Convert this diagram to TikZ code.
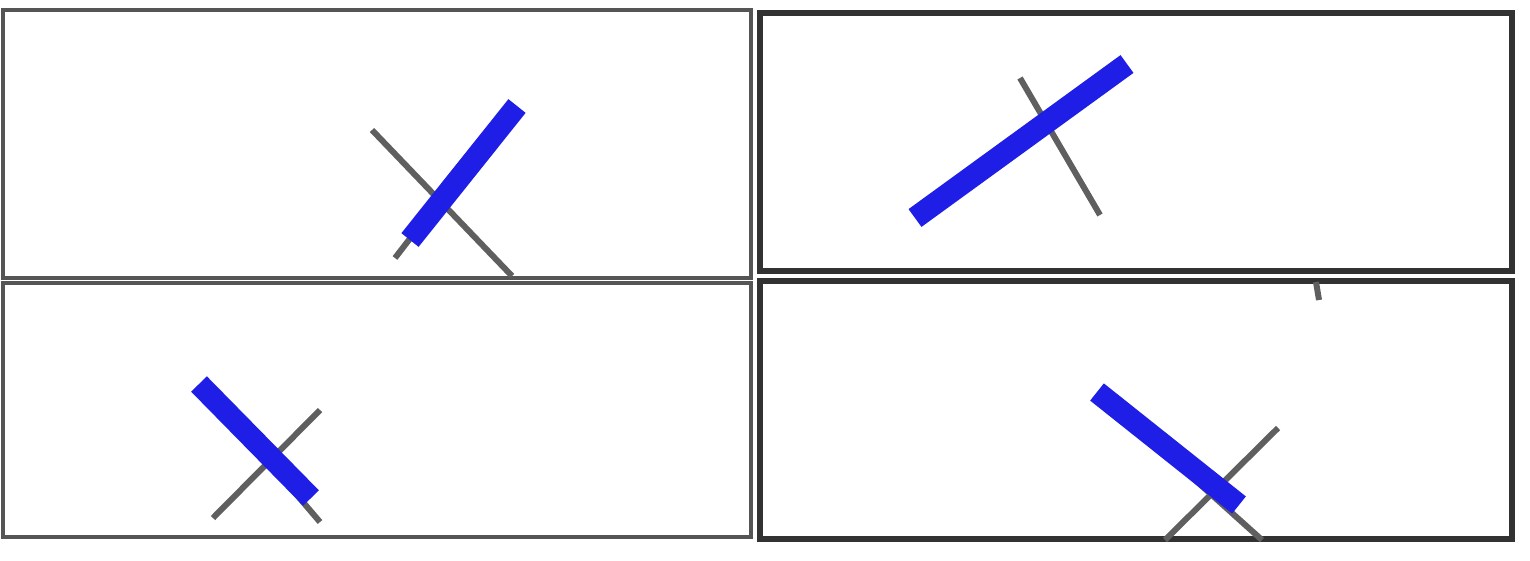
\documentclass[tikz,border=0pt]{standalone}
\definecolor{barblue}{RGB}{30,30,230}
\definecolor{stickgray}{RGB}{95,95,95}
\definecolor{frameA}{RGB}{85,85,85}
\definecolor{frameB}{RGB}{50,50,50}
\tikzset{
  frameline/.style={draw=frameA,line width=4pt},
  darkframe/.style={draw=frameB,line width=6pt},
  stick/.style={draw=stickgray,line width=6pt},
  bar/.style={draw=barblue,line width=22pt},
}
\begin{document}
\begin{tikzpicture}[x=1pt,y=-1pt]
\useasboundingbox (0,0) rectangle (1530,560);
% frames
\draw[frameline] (3,10) rectangle (751,278);
\draw[darkframe] (760,13) rectangle (1512,271);
\draw[frameline] (3,283) rectangle (751,537);
\draw[darkframe] (760,281) rectangle (1512,539);
% top-left panel
\draw[stick] (372,130) -- (512,276);
\draw[stick] (395,258) -- (500,122);
\draw[bar] (410,240) -- (517,106);
% top-right panel
\draw[stick] (1020,78) -- (1100,215);
\draw[stick] (930,200) -- (1110,75);
\draw[bar] (915,218) -- (1127,64);
% bottom-left panel
\draw[stick] (320,410) -- (213,518);
\draw[stick] (220,405) -- (320,522);
\draw[bar] (199,384) -- (311,498);
% bottom-right panel
\draw[stick] (1278,428) -- (1165,540);
\draw[stick] (1115,408) -- (1262,540);
\draw[bar] (1097,392) -- (1239,505);
\draw[stick] (1316,282) -- (1319,300);
\end{tikzpicture}
\end{document}
